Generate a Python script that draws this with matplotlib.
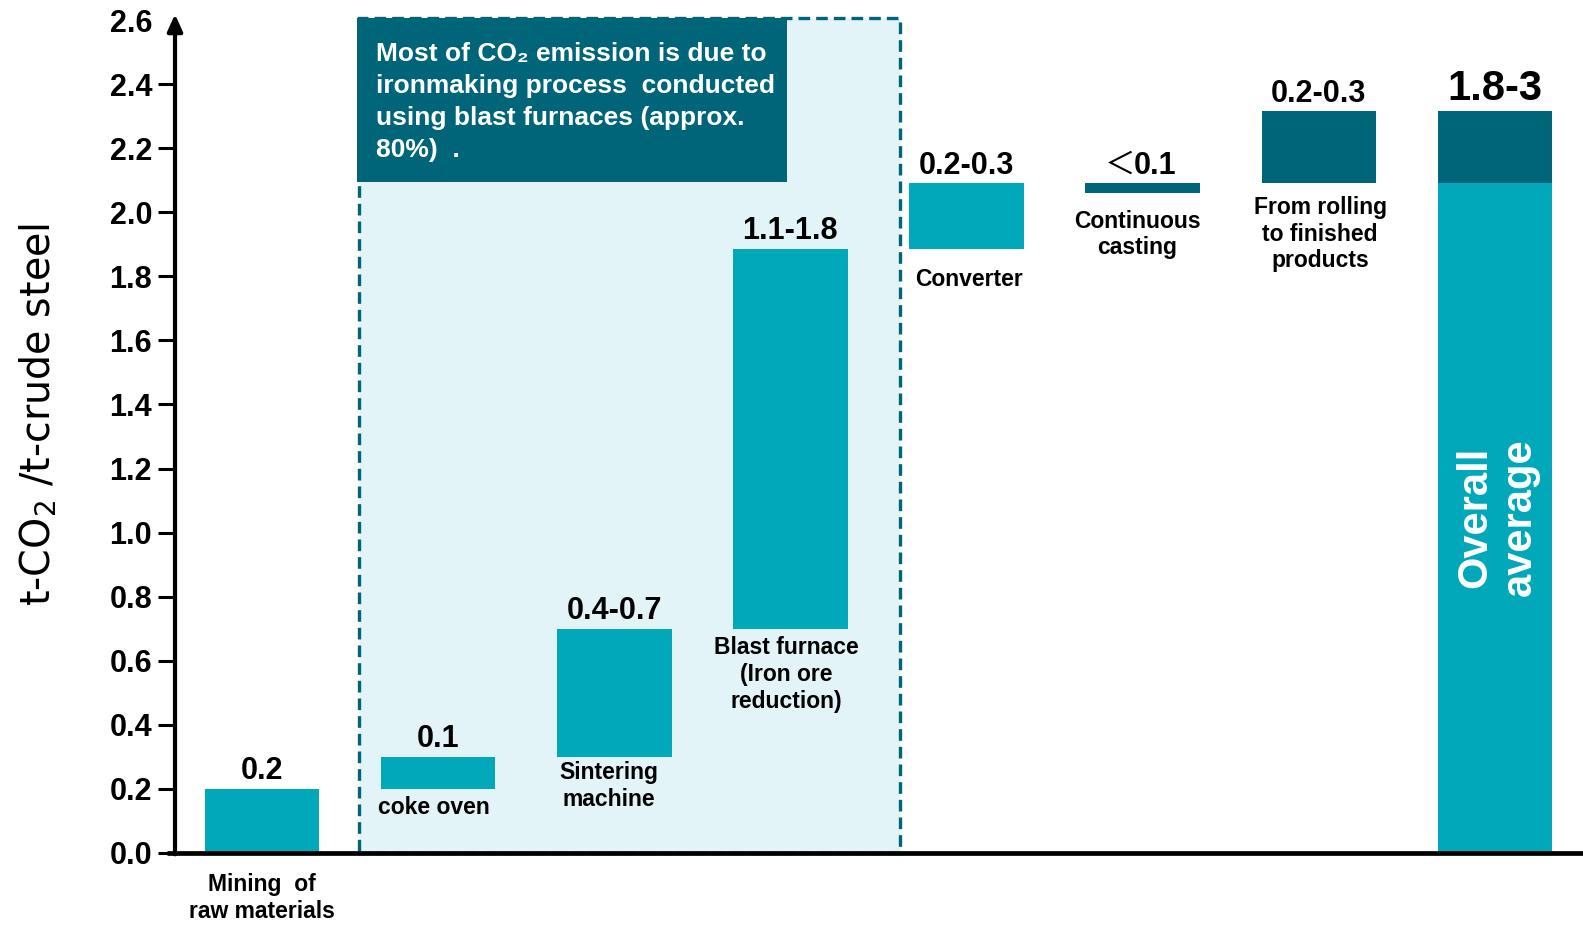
import matplotlib
matplotlib.use("Agg")
import matplotlib.pyplot as plt
from matplotlib.patches import Rectangle
from matplotlib import font_manager

# ---- data ----
categories = ["Mining  of\nraw materials", "coke oven", "Sintering\nmachine",
              "Blast furnace\n(Iron ore\nreduction)", "Converter",
              "Continuous\ncasting", "From rolling\nto finished\nproducts",
              "Overall\naverage"]
bar_bottom = [0.0, 0.2, 0.3, 0.7, 1.885, 2.06, 2.09, 0.0]
bar_top = [0.2, 0.3, 0.7, 1.885, 2.09, 2.09, 2.315, 2.09]
overall_upper = [2.09, 2.315]
value_labels = ["0.2", "0.1", "0.4-0.7", "1.1-1.8", "0.2-0.3", "\uff1c0.1", "0.2-0.3", "1.8-3"]
bar_kind = ["teal", "teal", "teal", "teal", "teal", "dark", "dark", "teal"]
yticks = [0.0, 0.2, 0.4, 0.6, 0.8, 1.0, 1.2, 1.4, 1.6, 1.8, 2.0, 2.2, 2.4, 2.6]
ylabel = "t-CO$_2$ /t-crude steel"
note = "Most of CO\u2082 emission is due to\nironmaking process  conducted\nusing blast furnaces (approx.\n80%)  ."

TEAL = "#00a8b9"
DARK = "#006579"
LIGHT = "#e2f4f8"

names = {f.name for f in font_manager.fontManager.ttflist}
if "Liberation Sans Narrow" in names:
    VFAM, VSIZE = ["Liberation Sans Narrow", "Noto Sans CJK JP"], 26
else:
    VFAM, VSIZE = ["Liberation Sans", "Noto Sans CJK JP"], 22
BFAM = ["Liberation Sans", "DejaVu Sans"]

W, H = 1583, 926
fig = plt.figure(figsize=(W / 100, H / 100), dpi=100)
left_px, right_px, y0_px, ytop_px = 175, 1583, 853, 20
ax = fig.add_axes([left_px / W, (H - y0_px) / H, (right_px - left_px) / W, (y0_px - ytop_px) / H])
ax.set_xlim(-0.494, 7.5)
ax.set_ylim(0, 2.6)
ax.patch.set_alpha(0)

# background highlighted box (ironmaking)
ax.add_patch(Rectangle((0.553, 0), 3.624 - 0.553, 2.606, facecolor=LIGHT,
                       edgecolor=DARK, linestyle=(0, (3.5, 1.8)), linewidth=2.4,
                       clip_on=False, zorder=0))
ax.add_patch(Rectangle((0.542, 2.095), 2.981 - 0.542, 2.606 - 2.095,
                       facecolor=DARK, edgecolor="none", clip_on=False, zorder=1))
ax.text(0.645, 2.531, note, color="white", fontsize=19, fontweight="bold",
        family=BFAM, va="top", ha="left", linespacing=1.42, zorder=2)

x = list(range(len(categories)))
width = 0.65
colors = [TEAL if k == "teal" else DARK for k in bar_kind]
heights = [t - b for t, b in zip(bar_top, bar_bottom)]
ax.bar(x, heights, bottom=bar_bottom, width=width, color=colors, zorder=3)
ax.bar([x[-1]], [overall_upper[1] - overall_upper[0]], bottom=[overall_upper[0]],
       width=width, color=DARK, zorder=3)

# value labels
tops = bar_top[:-1] + [overall_upper[1]]
for i, (xi, t, lab) in enumerate(zip(x, tops, value_labels)):
    if i == len(x) - 1:
        fam, fs = BFAM, 30
    else:
        fam, fs = VFAM, VSIZE
    if lab.startswith("\uff1c"):
        ax.annotate(lab[0], (xi - 0.13, t), xytext=(0, 2), textcoords="offset points",
                    ha="center", va="bottom", fontsize=fs, fontweight="normal",
                    family=["Noto Sans CJK JP"], color="black", zorder=5)
        ax.annotate(lab[1:], (xi + 0.07, t), xytext=(0, 2), textcoords="offset points",
                    ha="center", va="bottom", fontsize=fs, fontweight="bold",
                    family=fam, color="black", zorder=5)
        continue
    ax.annotate(lab, (xi, t), xytext=(0, 2), textcoords="offset points",
                ha="center", va="bottom", fontsize=fs, fontweight="bold",
                family=fam, color="black", zorder=5)

# category labels
cat_pos = [(0.0, -0.14), (0.976, 0.141), (1.968, 0.209), (2.977, 0.557),
           (4.014, 1.789), (4.97, 1.931), (6.008, 1.931)]
for (px, py), lab in zip(cat_pos, categories[:-1]):
    ax.text(px, py, lab, ha="center", va="center", fontsize=16.5,
            fontweight="bold", family=BFAM, linespacing=1.2, clip_on=False, zorder=5)
ax.text(7.015, 1.049, categories[-1], rotation=90, ha="center", va="center",
        fontsize=30, fontweight="bold", family=BFAM, color="white",
        linespacing=1.15, zorder=5)

# axes styling
for s in ["top", "right", "left", "bottom"]:
    ax.spines[s].set_visible(False)
ax.plot([-0.006, 1.0], [0, 0], transform=ax.transAxes, color="black",
        linewidth=3.4, clip_on=False, zorder=6, solid_capstyle="butt")
ax.annotate("", xy=(0, 2.618), xytext=(0, -0.004),
            xycoords=("axes fraction", "data"), textcoords=("axes fraction", "data"),
            arrowprops=dict(arrowstyle="-|>,head_length=1.0,head_width=0.45",
                            color="black", lw=3.0, shrinkA=0, shrinkB=0),
            zorder=6, annotation_clip=False)

ax.set_xticks([])
ax.set_yticks(yticks)
ax.set_yticklabels([f"{v:.1f}" for v in yticks], fontsize=22, fontweight="bold",
                   family=BFAM)
ax.tick_params(axis="y", direction="out", length=12, width=2.2, pad=4.5, color="black")
ax.yaxis.get_major_ticks()[-1].tick1line.set_visible(False)

ax.set_ylabel(ylabel, fontsize=28.5, family="DejaVu Sans")
ax.yaxis.set_label_coords(-116 / (right_px - left_px), 0.527)

fig.savefig("out.png", dpi=100)
